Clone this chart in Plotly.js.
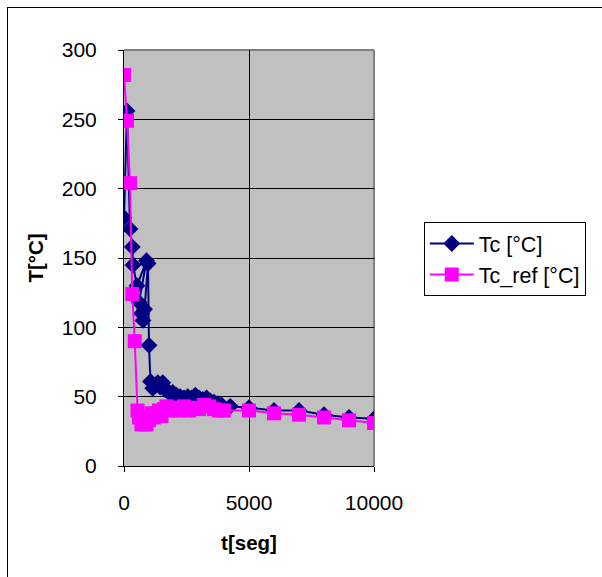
<!DOCTYPE html>
<html>
<head>
<meta charset="utf-8">
<script src="https://cdn.plot.ly/plotly-3.0.1.min.js"></script>
<style>
html,body{margin:0;padding:0;background:#fff;}
#chart{width:602px;height:577px;position:relative;}
#frame{position:absolute;left:7px;top:7px;width:800px;height:800px;border-left:1px solid #000;border-top:1px solid #000;pointer-events:none;}
</style>
</head>
<body>
<div id="chart"></div>
<div id="frame"></div>
<script>
// Tc [°C] series (time in s, temperature in °C)
var tcTime = [0,120,240,330,360,520,900,600,700,760,820,960,1000,1060,1150,1250,1350,1450,1550,1650,1750,1850,1950,2100,2250,2400,2550,2700,2850,3000,3150,3300,3450,3600,3750,3900,4250,5000,6000,7000,8000,9000,10000];
var tcTemp = [179,256,171,158,145,130,148,118,110,105,113,146,87,61,56,58,60,57,60,55,54,52,53,51,50,49,50,49,51,49,48,49,47,46,45,44,43,42,40,40,37,35,34];

// Tc_ref [°C] series
var refTime = [0,120,240,330,430,540,600,700,800,900,1000,1100,1200,1300,1400,1500,1600,1700,1800,1900,2000,2200,2400,2600,2800,3000,3200,3400,3600,3800,4000,5000,6000,7000,8000,9000,10000];
var refTemp = [282,249,204,124,90,40,35,30,31,30,33,38,35,38,40,36,41,43,40,41,42,40,43,40,42,41,44,43,41,40,40,40,38,37,35,33,31];

var seriesNames = ["Tc [°C]", "Tc_ref [°C]"];
var xTicks = [0,5000,10000];
var yTicks = [0,50,100,150,200,250,300];

var fam = "Liberation Sans, Arial, sans-serif";
var tickFont = {family: fam, size: 21, color: "#000"};
var titleFont = {family: fam, size: 20.5, color: "#000"};
var legendFont = {family: fam, size: 21.5, color: "#000"};

var traces = [
  {x: tcTime, y: tcTemp, name: seriesNames[0], type: "scatter", mode: "lines+markers",
   line: {color: "#000080", width: 2},
   marker: {symbol: "diamond", size: 13, color: "#000080"}},
  {x: refTime, y: refTemp, name: seriesNames[1], type: "scatter", mode: "lines+markers",
   line: {color: "#ff00ff", width: 2},
   marker: {symbol: "square", size: 14, color: "#ff00ff"}}
];

var layout = {
  width: 602, height: 577,
  margin: {l: 124, r: 228, t: 50, b: 111, autoexpand: false},
  paper_bgcolor: "#fff",
  plot_bgcolor: "#c0c0c0",
  font: tickFont,
  showlegend: true,
  legend: {xref: "container", yref: "container", x: 0.704, y: 0.6153,
           xanchor: "left", yanchor: "top",
           bgcolor: "#fff", bordercolor: "#000", borderwidth: 1,
           font: legendFont, tracegroupgap: 0, itemwidth: 44},
  xaxis: {range: [0, 10000], tickvals: xTicks, ticktext: xTicks.map(String),
          showgrid: true, gridcolor: "#000", gridwidth: 1, zeroline: false,
          showline: true, linecolor: "#000", linewidth: 1,
          ticks: "outside", ticklen: 5, tickcolor: "#000", ticklabelstandoff: 13,
          tickfont: tickFont, automargin: false,
          title: {text: "<b>t[seg]</b>", font: titleFont, standoff: 22}},
  yaxis: {range: [0, 300], tickvals: yTicks, ticktext: yTicks.map(String),
          showgrid: true, gridcolor: "#000", gridwidth: 1, zeroline: false,
          showline: true, linecolor: "#000", linewidth: 1,
          ticks: "outside", ticklen: 5, tickcolor: "#000", ticklabelstandoff: 17,
          tickfont: tickFont, automargin: false,
          title: {text: "<b>T[°C]</b>", font: titleFont, standoff: 12}},
  shapes: [
    {type: "line", xref: "paper", yref: "paper", x0: 0, x1: 1, y0: 1, y1: 1,
     line: {color: "#808080", width: 2}, layer: "between"},
    {type: "line", xref: "paper", yref: "paper", x0: 1, x1: 1, y0: 0, y1: 1,
     line: {color: "#808080", width: 2}, layer: "between"}
  ]
};

Plotly.newPlot("chart", traces, layout, {displayModeBar: false, staticPlot: true});
</script>
</body>
</html>
